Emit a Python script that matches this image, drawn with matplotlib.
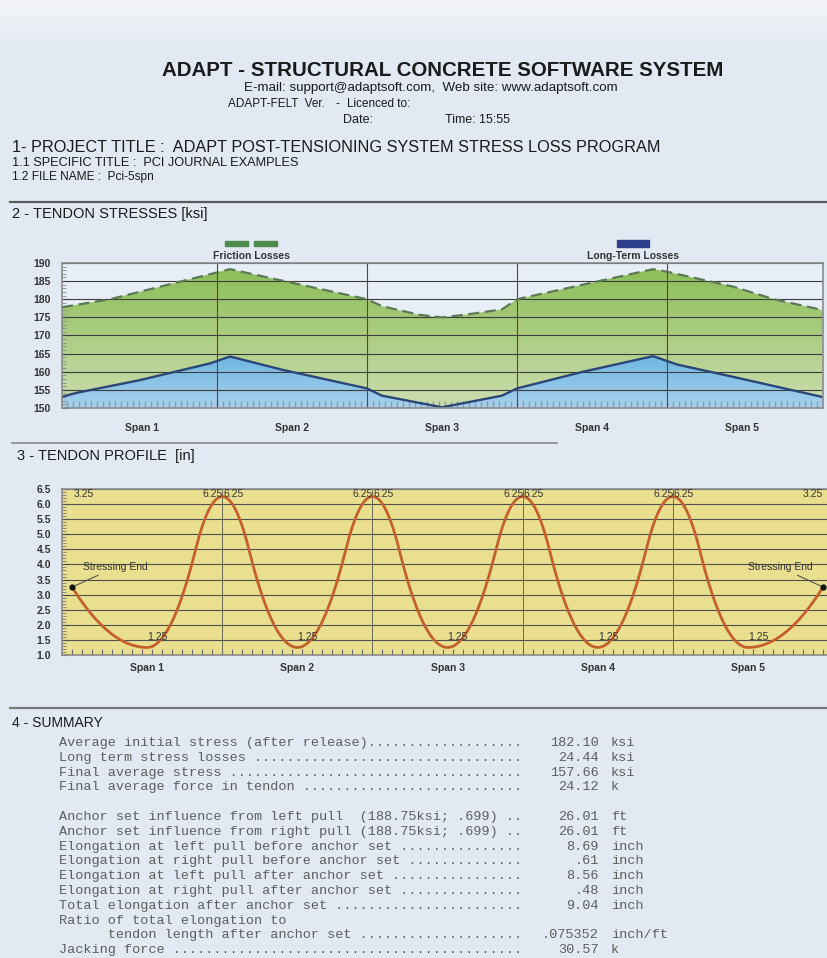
import matplotlib
matplotlib.use("Agg")
import matplotlib.pyplot as plt
import numpy as np
from matplotlib.lines import Line2D
from matplotlib.patches import Rectangle
from matplotlib import font_manager, transforms

W, H = 828, 958

# ---------------- data ----------------
span_names = ['Span 1', 'Span 2', 'Span 3', 'Span 4', 'Span 5']

# tendon stresses, x in span units (0 = left anchor)
friction_x = [-0.033, 0.287, 1.087, 2.0, 2.1, 2.35, 2.5, 2.65, 2.9, 3.0, 3.907, 4.0, 4.44, 4.713, 5.04]
friction_ksi = [177.8, 180.0, 188.3, 180.0, 178.1, 175.7, 175.0, 175.7, 177.2, 180.0, 188.3, 187.6, 183.5, 180.0, 177.0]
longterm_x = [-0.033, 0.067, 0.487, 0.953, 1.087, 1.44, 2.0, 2.1, 2.5, 2.9, 3.0, 3.44, 3.907, 4.067, 4.44, 5.04]
longterm_ksi = [153.1, 154.2, 157.7, 162.3, 164.2, 160.5, 155.4, 153.4, 150.2, 153.4, 155.4, 160.0, 164.3, 162.0, 158.6, 153.0]

# tendon profile [in]
support_height = [3.25, 6.25, 6.25, 6.25, 6.25, 3.25]
low_point = [1.25, 1.25, 1.25, 1.25, 1.25]
low_at = 0.5          # low point position in each span
inflection = 0.18     # reverse curvature length at interior supports (span fraction)

summary_rows = [
    ("Average initial stress (after release)", "182.10", "ksi"),
    ("Long term stress losses ", "24.44", "ksi"),
    ("Final average stress ", "157.66", "ksi"),
    ("Final average force in tendon ", "24.12", "k"),
    None,
    ("Anchor set influence from left pull  (188.75ksi; .699) ", "26.01", "ft"),
    ("Anchor set influence from right pull (188.75ksi; .699) ", "26.01", "ft"),
    ("Elongation at left pull before anchor set ", "8.69", "inch"),
    ("Elongation at right pull before anchor set ", ".61", "inch"),
    ("Elongation at left pull after anchor set ", "8.56", "inch"),
    ("Elongation at right pull after anchor set ", ".48", "inch"),
    ("Total elongation after anchor set ", "9.04", "inch"),
    ("Ratio of total elongation to", "", ""),
    ("      tendon length after anchor set ", ".075352", "inch/ft"),
    ("Jacking force ", "30.57", "k"),
]

# ---------------- fonts ----------------
names = {f.name for f in font_manager.fontManager.ttflist}
narrow = 'Liberation Sans Narrow' if 'Liberation Sans Narrow' in names else 'Liberation Sans'
plt.rcParams['font.family'] = ['Liberation Sans', 'DejaVu Sans']

fig = plt.figure(figsize=(W / 100, H / 100), dpi=100)
fig.patch.set_facecolor('#e3e9f2')


def fx(x):
    return x / W


def fy(y):
    return 1 - y / H


def T(x, y, s, **kw):
    kw.setdefault('va', 'center')
    kw.setdefault('color', '#1a1a1a')
    return fig.text(fx(x), fy(y), s, **kw)


def hline(x0, x1, y, color, lw):
    fig.add_artist(Line2D([fx(x0), fx(x1)], [fy(y), fy(y)], color=color, lw=lw,
                          transform=fig.transFigure))


# background gradient (whiter at the top)
bg = fig.add_axes([0, 0, 1, 1], zorder=-10)
rows = np.linspace(0, 1, H)
top = np.array([0.955, 0.962, 0.972])
base = np.array([0.890, 0.915, 0.950])
mix = np.clip(rows / 0.05, 0, 1)[:, None]
grad = top * (1 - mix) + base * mix
bg.imshow(np.repeat(grad[:, None, :], 4, axis=1), aspect='auto', extent=[0, 1, 0, 1])
bg.axis('off')

# ---------------- header ----------------
T(443, 71, "ADAPT - STRUCTURAL CONCRETE SOFTWARE SYSTEM", ha='center', fontsize=14.8,
  fontweight='bold')
T(431, 88, "E-mail: support@adaptsoft.com,  Web site: www.adaptsoft.com", ha='center',
  fontsize=9.6, family=narrow)
T(228, 104, "ADAPT-FELT  Ver.", fontsize=8.5, family=narrow)
T(336, 104, "-", fontsize=8.5, family=narrow)
T(347, 104, "Licenced to:", fontsize=8.5, family=narrow)
T(343, 120, "Date:", fontsize=9, family=narrow)
T(445, 120, "Time: 15:55", fontsize=9, family=narrow)

T(12, 148, "1- PROJECT TITLE :  ADAPT POST-TENSIONING SYSTEM STRESS LOSS PROGRAM", fontsize=11.7,
  family=narrow)
T(12, 163, "1.1 SPECIFIC TITLE :  PCI JOURNAL EXAMPLES", fontsize=9.2, family=narrow)
T(12, 177, "1.2 FILE NAME :  Pci-5spn", fontsize=8.6, family=narrow)
hline(10, 828, 202, '#5a5a5a', 1.6)
T(12, 214, "2 - TENDON STRESSES [ksi]", fontsize=10.5, family=narrow)

# ---------------- chart 1: tendon stresses ----------------
ax1 = fig.add_axes([fx(62), fy(408), (823 - 62) / W, (408 - 263) / H])
ax1.set_facecolor('#e8eef6')
ax1.set_axisbelow(False)
y0, y1 = 150, 190


def gradient_fill(ax, x, y, c_top, c_bot, ylo, yhi, z):
    poly = ax.fill_between(x, y, ylo, facecolor='none', edgecolor='none')
    t = np.linspace(0, 1, 256)[:, None]
    img = np.array(c_bot)[None, :] * (1 - t) + np.array(c_top)[None, :] * t
    im = ax.imshow(img[:, None, :].repeat(2, axis=1), aspect='auto', origin='lower',
                   extent=[min(x), max(x), ylo, yhi], zorder=z, interpolation='bilinear')
    im.set_clip_path(poly.get_paths()[0], transform=ax.transData)


gradient_fill(ax1, friction_x, friction_ksi, (0.54, 0.74, 0.33), (0.80, 0.87, 0.69), y0, 190, 1)
gradient_fill(ax1, longterm_x, longterm_ksi, (0.42, 0.71, 0.88), (0.66, 0.82, 0.93), y0, 165, 2)
ax1.plot(friction_x, friction_ksi, color='#5b7a55', lw=1.6, dashes=(5, 2.5), zorder=5)
ax1.plot(longterm_x, longterm_ksi, color='#2c4777', lw=1.7, zorder=5)

for v in range(y0, y1 + 1, 5):
    ax1.axhline(v, color='#3d3d3d', lw=0.8, zorder=3)
for k in range(1, len(span_names)):
    ax1.axvline(k, color='#8a2f2f', lw=0.8, zorder=4)

ax1.set_xlim(-0.033, 5.04)
ax1.set_ylim(y0, y1)
ax1.set_yticks(range(y0, y1 + 1, 5))
ax1.set_yticks(range(y0, y1 + 1), minor=True)
ax1.set_xticks([])
ax1.set_xticks(np.arange(0, 5.04, 0.04), minor=True)
ax1.tick_params(axis='y', which='major', direction='in', length=5, color='#777',
                labelsize=7.5, labelcolor='#333', pad=8)
ax1.tick_params(axis='y', which='minor', direction='in', length=3, color='#888')
ax1.tick_params(axis='x', which='minor', direction='in', length=5, color='#8f9aa6', width=1)
for lab in ax1.get_yticklabels():
    lab.set_fontweight('bold')
for s in ax1.spines.values():
    s.set_color('#8c8c8c')
    s.set_linewidth(1.2)
    s.set_zorder(6)

tr1 = transforms.blended_transform_factory(ax1.transData, fig.transFigure)
for i, name in enumerate(span_names):
    ax1.text(i + 0.5, fy(428), name, transform=tr1, ha='center', va='center',
             fontsize=7.5, fontweight='bold', color='#333')

# legend above chart 1
fig.add_artist(Rectangle((fx(225), fy(246)), 23 / W, 5 / H, color='#4e8a4e',
                         transform=fig.transFigure))
fig.add_artist(Rectangle((fx(254), fy(246)), 23 / W, 5 / H, color='#4e8a4e',
                         transform=fig.transFigure))
T(251, 256, "Friction Losses", ha='center', fontsize=7.5, fontweight='bold', color='#333')
fig.add_artist(Rectangle((fx(617), fy(247)), 32 / W, 7 / H, color='#2d3f8c',
                         transform=fig.transFigure))
T(633, 256, "Long-Term Losses", ha='center', fontsize=7.5, fontweight='bold', color='#333')

hline(12, 557, 443, '#8a8a8a', 1.2)
T(17, 456, "3 - TENDON PROFILE  [in]", fontsize=10.5, family=narrow)

# ---------------- chart 2: tendon profile ----------------
ax2 = fig.add_axes([fx(62), fy(655), (828 - 62) / W, (655 - 489) / H])
ax2.set_facecolor('#e9df8e')


def half_profile(d, h, L, a, simple):
    # d: distance from support, h: rise from low point, L: support-to-low length
    if simple:
        return h * ((L - d) / L) ** 2
    return np.where(d <= a, h - h / (L * a) * d ** 2, h / (L * (L - a)) * (L - d) ** 2)


xs, ys = [], []
n_sp = len(low_point)
for i in range(n_sp):
    hl, hr, lo = support_height[i], support_height[i + 1], low_point[i]
    d = np.linspace(0, low_at, 150)
    left = lo + half_profile(d, hl - lo, low_at, inflection, i == 0)
    dr = np.linspace(0, 1 - low_at, 150)[::-1]
    right = lo + half_profile(dr, hr - lo, 1 - low_at, inflection, i == n_sp - 1)
    xs += list(i + d) + list(i + 1 - dr)
    ys += list(left) + list(right)

for v in np.arange(1.0, 6.51, 0.5):
    ax2.axhline(v, color='#505050', lw=0.8, zorder=2)
for k in range(1, n_sp):
    ax2.axvline(k, color='#6a6a5a', lw=0.7, zorder=2)
ax2.plot(xs, ys, color='#c4602c', lw=2, zorder=4)
ax2.plot([0, n_sp], [support_height[0], support_height[-1]], 'o', color='#111', ms=3.5, zorder=5)

ax2.set_xlim(-0.067, 5.033)
ax2.set_ylim(1.0, 6.5)
ax2.set_yticks(np.arange(1.0, 6.51, 0.5))
ax2.set_yticklabels([f"{v:.1f}" for v in np.arange(1.0, 6.51, 0.5)])
ax2.set_yticks(np.arange(1.0, 6.51, 0.1), minor=True)
ax2.set_xticks([])
ax2.set_xticks(np.arange(0, 5.01, 1 / 15), minor=True)
ax2.tick_params(axis='y', which='major', direction='in', length=5, color='#666',
                labelsize=7.5, labelcolor='#333', pad=8)
ax2.tick_params(axis='y', which='minor', direction='in', length=3, color='#777')
ax2.tick_params(axis='x', which='minor', direction='in', length=4, color='#666', width=0.8)
for lab in ax2.get_yticklabels():
    lab.set_fontweight('bold')
for s in ax2.spines.values():
    s.set_color('#8c8c8c')
    s.set_linewidth(1.2)

lab_kw = dict(fontsize=7.5, color='#333', va='center', zorder=6)
ax2.text(0.01, 6.33, f"{support_height[0]:.2f}", ha='left', **lab_kw)
ax2.text(n_sp, 6.33, f"{support_height[-1]:.2f}", ha='right', **lab_kw)
for k in range(1, n_sp):
    # the two end values of adjacent spans sit side by side ("6.256.25")
    ax2.text(k + 0.004, 6.33, f"{support_height[k]:.2f}", ha='right', **lab_kw)
    ax2.text(k + 0.006, 6.33, f"{support_height[k]:.2f}", ha='left', **lab_kw)
for i in range(n_sp):
    ax2.text(i + low_at, 1.6, f"{low_point[i]:.2f}", ha='left', **lab_kw)

ann_kw = dict(fontsize=7.5, color='#333', va='center', zorder=6,
              arrowprops=dict(arrowstyle='-', color='#555', lw=0.8, shrinkA=0, shrinkB=2))
ax2.annotate("Stressing End", xy=(0, support_height[0]), xytext=(0.073, 3.9), ha='left', **ann_kw)
ax2.annotate("Stressing End", xy=(n_sp, support_height[-1]), xytext=(4.933, 3.9), ha='right',
             **ann_kw)

tr2 = transforms.blended_transform_factory(ax2.transData, fig.transFigure)
for i, name in enumerate(span_names):
    ax2.text(i + 0.5, fy(668), name, transform=tr2, ha='center', va='center',
             fontsize=7.5, fontweight='bold', color='#333')

# ---------------- summary ----------------
hline(10, 828, 708, '#7a7a7a', 1.6)
T(12, 723, "4 - SUMMARY", fontsize=10, family=narrow)

mono = dict(family='Liberation Mono', fontsize=9.7, color='#5e5e5e')
for slot, row in enumerate(summary_rows):
    if row is None:
        continue
    label, value, unit = row
    y = 743 + 14.8 * slot
    if value:
        label = label.ljust(57, '.')
    T(59, y, label, **mono)
    if value:
        T(599, y, value, ha='right', **mono)
        T(611, y, unit, **mono)

fig.savefig('out.png', dpi=100, facecolor=fig.get_facecolor())
